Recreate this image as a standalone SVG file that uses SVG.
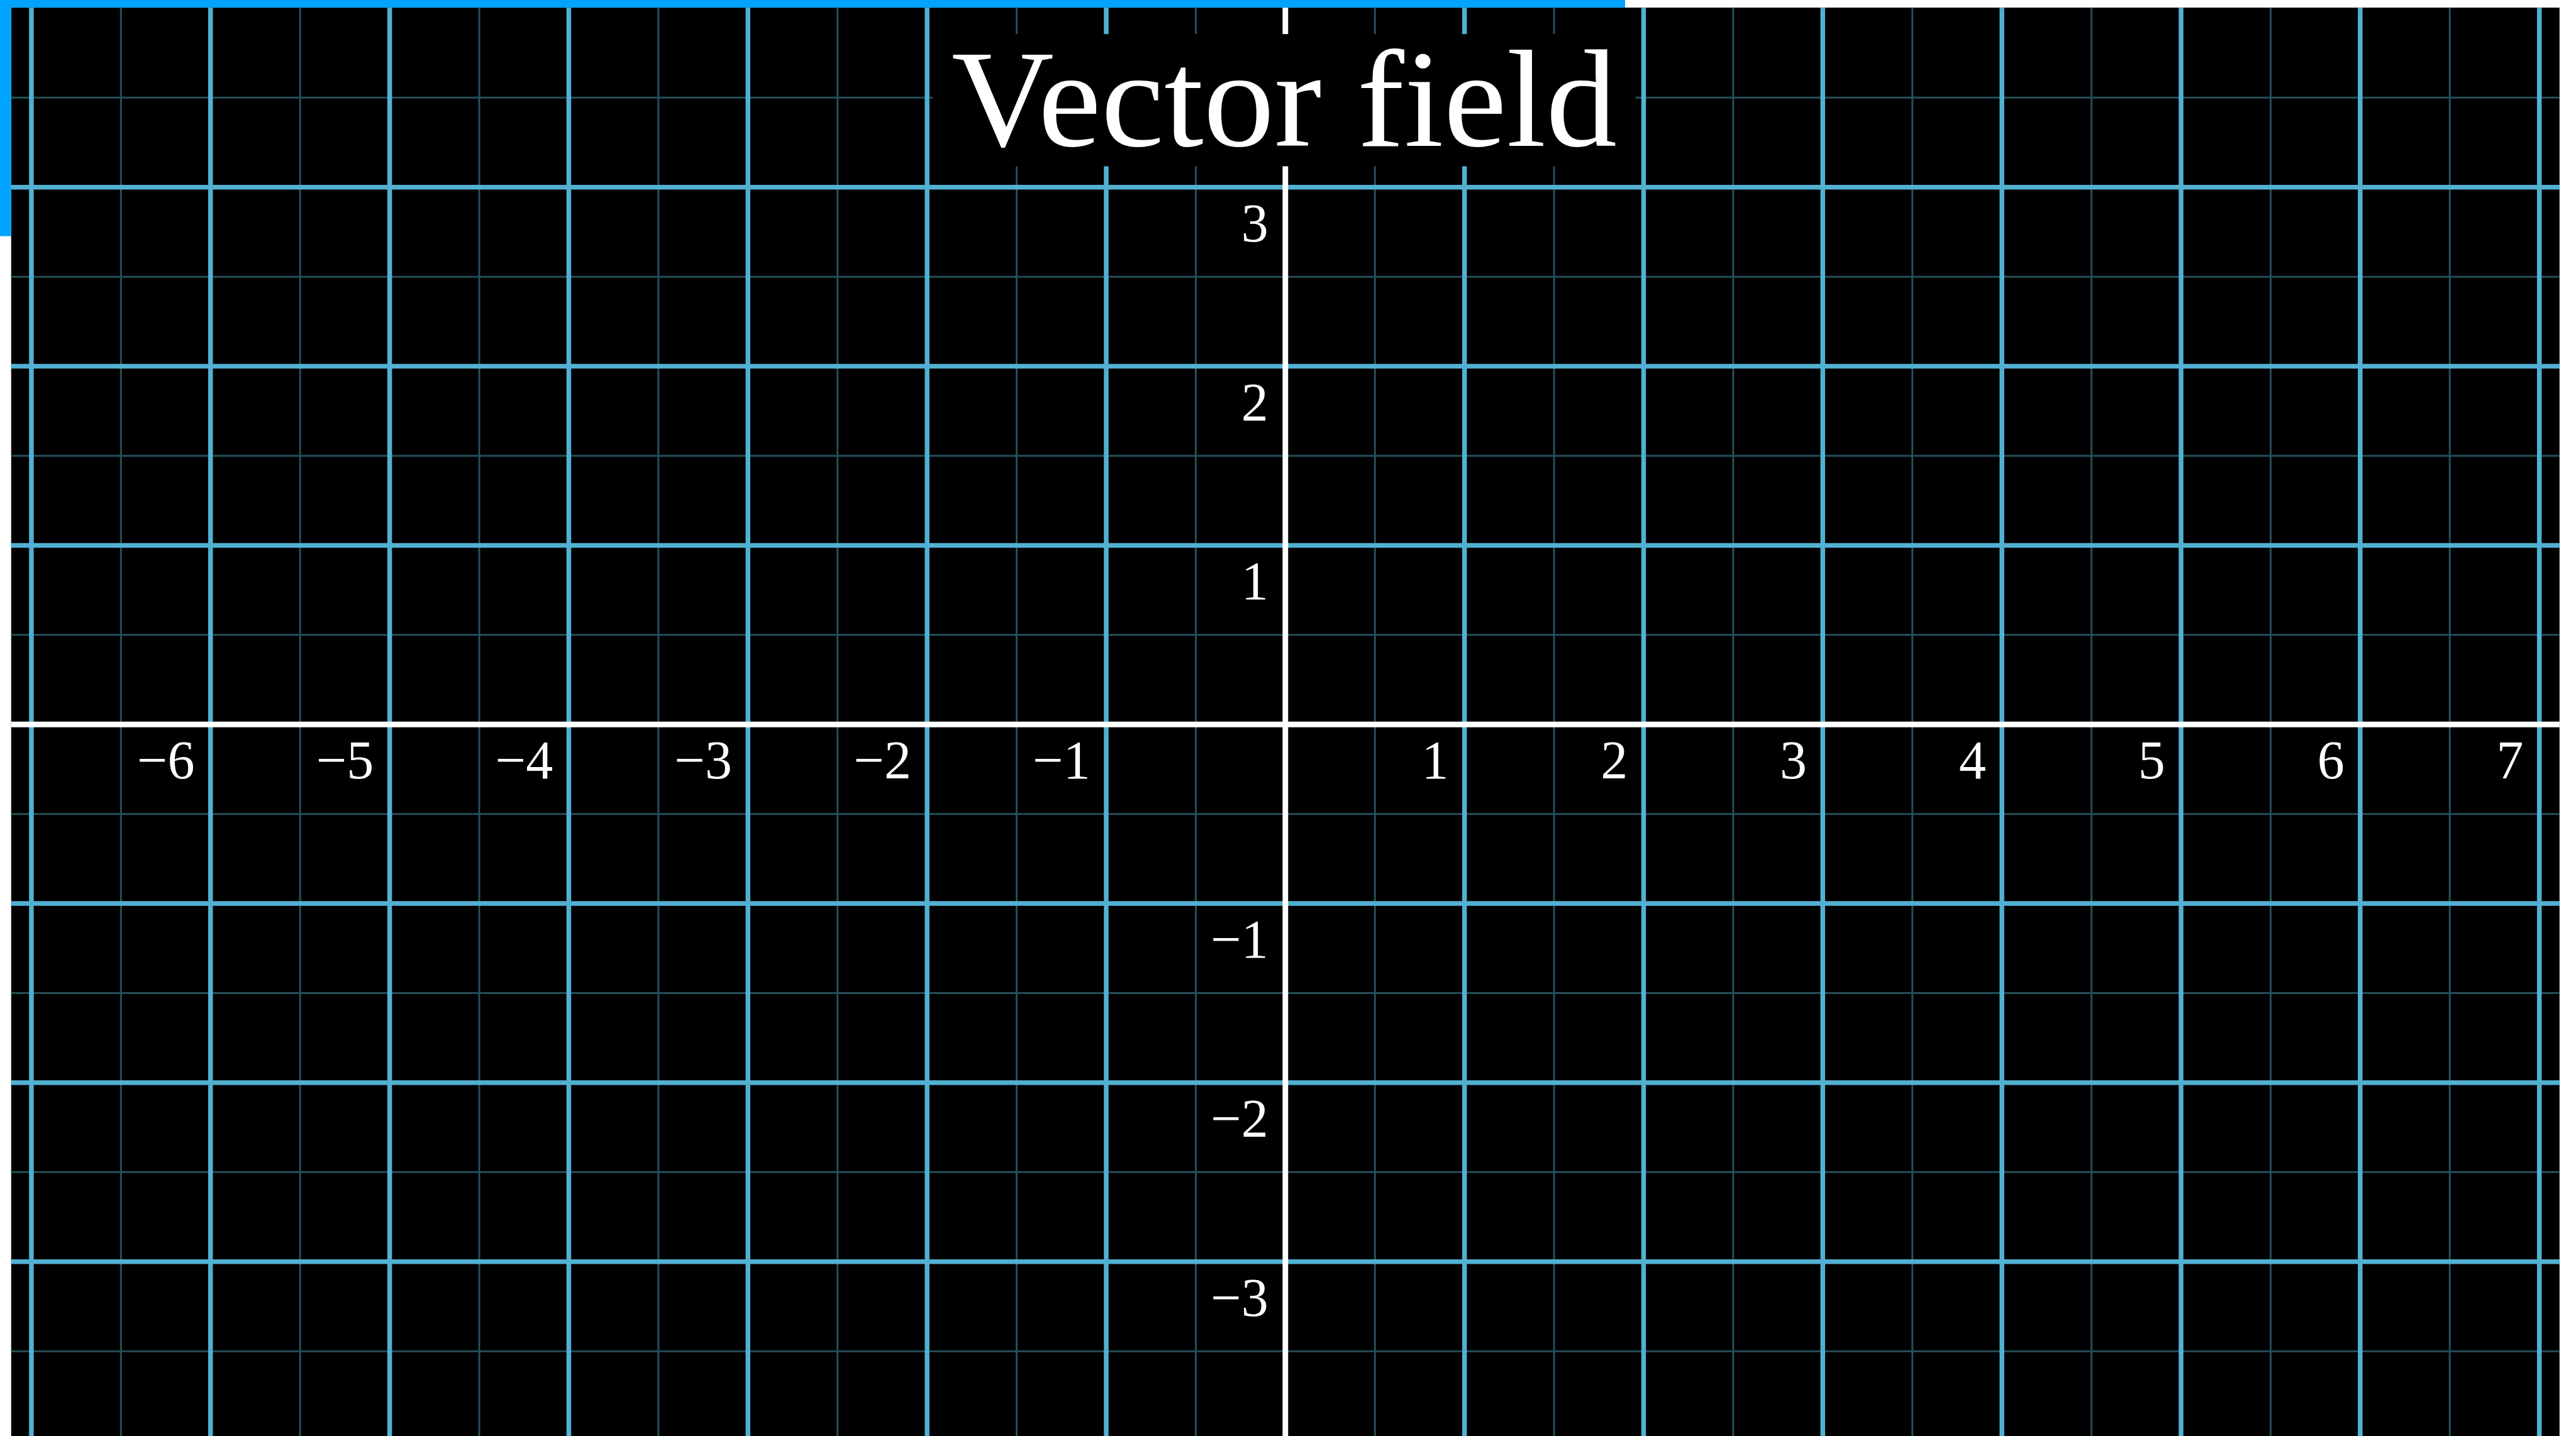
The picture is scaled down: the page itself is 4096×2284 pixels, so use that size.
<svg xmlns="http://www.w3.org/2000/svg" width="4096" height="2284" viewBox="0 0 4096 2284">
<style>
.minor{stroke:#24505A;stroke-width:3.2;fill:none}
.major{stroke:#52B0D2;stroke-width:8;fill:none}
.axis{stroke:#FFFFFF;stroke-width:9.5;fill:none}
.lbl{font-family:"Liberation Serif","Times New Roman",serif;font-size:92px;fill:#FFFFFF;text-anchor:end}
.title{font-family:"Liberation Serif","Times New Roman",serif;font-size:236px;fill:#FFFFFF;text-anchor:middle}
</style>
<rect x="0" y="0" width="4096" height="2284" fill="#FFFFFF"/>
<g transform="scale(0.93452)">
<g id="background">
<rect x="19" y="13" width="4336" height="2431" fill="#000000"/>
<rect x="0" y="0" width="2765" height="13" fill="#00A3FF"/>
<rect x="0" y="0" width="19" height="402" fill="#00A3FF"/>
</g>
<g id="grid-minor" class="minor">
<path d="M205.8 13V2444M510.6 13V2444M815.4 13V2444M1120.2 13V2444M1425 13V2444M1729.8 13V2444M2034.6 13V2444M2339.4 13V2444M2644.2 13V2444M2949 13V2444M3253.8 13V2444M3558.6 13V2444M3863.4 13V2444M4168.2 13V2444"/>
<path d="M19 166.2H4355M19 471H4355M19 775.8H4355M19 1080.6H4355M19 1385.4H4355M19 1690.2H4355M19 1995H4355M19 2299.8H4355"/>
</g>
<g id="grid-major" class="major">
<path d="M19 318.6H4355M19 623.4H4355M19 928.2H4355M19 1537.8H4355M19 1842.6H4355M19 2147.4H4355"/>
<path d="M53.4 13V2444M358.2 13V2444M663 13V2444M967.8 13V2444M1272.6 13V2444M1577.4 13V2444M1882.2 13V2444M2491.8 13V2444M2796.6 13V2444M3101.4 13V2444M3406.2 13V2444M3711 13V2444M4015.8 13V2444M4320.6 13V2444"/>
</g>
<g id="axes" class="axis">
<path d="M19 1233H4355"/>
<path d="M2187 13V2444"/>
</g>
<g id="title">
<rect x="1587" y="58" width="1196" height="225" fill="#000000"/>
<text class="title" x="2185" y="248" textLength="1132" lengthAdjust="spacingAndGlyphs">Vector field</text>
</g>
<g id="x-labels" class="lbl">
<text x="331.2" y="1325">−6</text>
<text x="636" y="1325">−5</text>
<text x="940.8" y="1325">−4</text>
<text x="1245.6" y="1325">−3</text>
<text x="1550.4" y="1325">−2</text>
<text x="1855.2" y="1325">−1</text>
<text x="2464.8" y="1325">1</text>
<text x="2769.6" y="1325">2</text>
<text x="3074.4" y="1325">3</text>
<text x="3379.2" y="1325">4</text>
<text x="3684" y="1325">5</text>
<text x="3988.8" y="1325">6</text>
<text x="4293.6" y="1325">7</text>
</g>
<g id="y-labels" class="lbl">
<text x="2158" y="410.6">3</text>
<text x="2158" y="715.4">2</text>
<text x="2158" y="1020.2">1</text>
<text x="2158" y="1629.8">−1</text>
<text x="2158" y="1934.6">−2</text>
<text x="2158" y="2239.4">−3</text>
</g>
</g>
</svg>
